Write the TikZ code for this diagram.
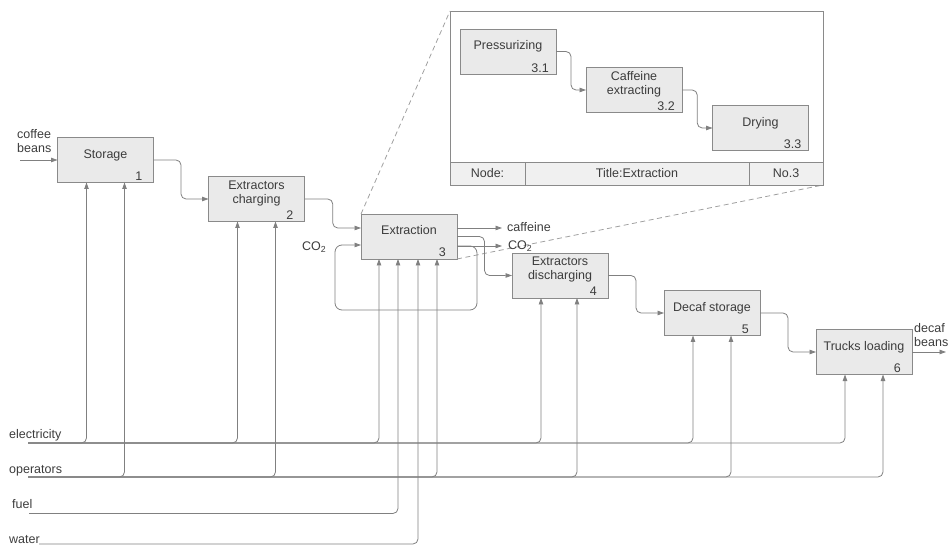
\documentclass[tikz,border=0pt]{standalone}
\usepackage{fontspec}
\setmainfont{Liberation Sans}
\usetikzlibrary{calc,arrows.meta}
\definecolor{boxfill}{HTML}{EAEAEA}
\definecolor{boxline}{HTML}{8A8A8A}
\definecolor{wirec}{HTML}{808080}
\definecolor{dashc}{HTML}{A0A0A0}
\definecolor{ink}{HTML}{3C3C3C}
\definecolor{cellfill}{HTML}{F0F0F0}
\begin{document}
\begin{tikzpicture}[x=1pt,y=-1pt,
  box/.style={draw=boxline, fill=boxfill, line width=0.9pt, minimum width=96pt, minimum height=45pt, inner sep=0pt, outer sep=0pt},
  txt/.style={font=\fontsize{12.5}{14}\selectfont, text=ink, inner sep=0pt},
  onel/.style={txt, anchor=base},
  twol/.style={txt, align=center, anchor=center},
  num/.style={txt, anchor=base east},
  lbl/.style={txt, anchor=base west},
  wire/.style={draw=wirec, line width=0.8pt, rounded corners=5pt},
  arr/.style={wire, -{Triangle[length=6.5pt,width=4.5pt]}},
  zoomline/.style={draw=dashc, line width=0.8pt, dash pattern=on 5pt off 3.5pt},
  cell/.style={draw=boxline, fill=cellfill, line width=0.8pt, minimum height=23pt, inner sep=0pt, outer sep=0pt, anchor=south west, font=\fontsize{12.5}{14}\selectfont, text=ink}
]
\useasboundingbox (0,0) rectangle (948,545);

% ---------------- zoom inset ----------------
\node[box] (B3) at (409,236.5) {};
\node[draw=boxline, fill=white, line width=0.8pt, minimum width=373pt, minimum height=174pt, anchor=north west, inner sep=0pt, outer sep=0pt] (inset) at (450,11) {};
\draw[zoomline] (B3.north west) -- (inset.north west);
\draw[zoomline] (B3.south east) -- (inset.south east);
\node[cell, minimum width=75pt] (c1) at (inset.south west) {Node:};
\node[cell, minimum width=224pt] (c2) at (c1.south east) {Title:Extraction};
\node[cell, minimum width=74pt] (c3) at (c2.south east) {No.3};

\node[box] (P1) at (508,51.5) {};
\node[onel] (P1t) at ([yshift=-21pt]P1.north) {Pressurizing};
\node[num] (P1n) at ([xshift=-7pt,yshift=1.5pt]P1.south east) {3.1};
\node[box] (P2) at (634,90) {};
\node[twol] (P2t) at ([yshift=5.7pt]P2.center) {Caffeine\\extracting};
\node[num] (P2n) at ([xshift=-7pt,yshift=1.5pt]P2.south east) {3.2};
\node[box] (P3) at (760.5,128) {};
\node[onel] (P3t) at ([yshift=-21pt]P3.north) {Drying};
\node[num] (P3n) at ([xshift=-7pt,yshift=1.5pt]P3.south east) {3.3};

\draw[arr] (P1.east) -| ($(P1.east)!.5!(P2.west)$) |- (P2.west);
\draw[arr] (P2.east) -| ($(P2.east)!.5!(P3.west)$) |- (P3.west);

% ---------------- main boxes ----------------
\node[box] (B1) at (105.5,160) {};
\node[onel] (B1t) at ([yshift=-21pt]B1.north) {Storage};
\node[num] (B1n) at ([xshift=-11pt,yshift=2pt]B1.south east) {1};

\node[box] (B2) at (256.5,199) {};
\node[twol] (B2t) at ([yshift=5.7pt]B2.center) {Extractors\\charging};
\node[num] (B2n) at ([xshift=-11pt,yshift=2pt]B2.south east) {2};

\node[onel] (B3t) at ([yshift=-21pt]B3.north) {Extraction};
\node[num] (B3n) at ([xshift=-11pt,yshift=2pt]B3.south east) {3};

\node[box] (B4) at (560,275.5) {};
\node[twol] (B4t) at ([yshift=5.7pt]B4.center) {Extractors\\discharging};
\node[num] (B4n) at ([xshift=-11pt,yshift=2pt]B4.south east) {4};

\node[box] (B5) at (712,313) {};
\node[onel] (B5t) at ([yshift=-21pt]B5.north) {Decaf storage};
\node[num] (B5n) at ([xshift=-11pt,yshift=2pt]B5.south east) {5};

\node[box] (B6) at (864,352) {};
\node[onel] (B6t) at ([yshift=-21pt]B6.north) {Trucks loading};
\node[num] (B6n) at ([xshift=-11pt,yshift=2pt]B6.south east) {6};

% ---------------- flow connectors ----------------
\draw[arr] (B1.east) -| ($(B1.east)!.5!(B2.west)$) |- (B2.west);
\draw[arr] (B2.east) -| ($(B2.east)!.5!([yshift=8.5pt]B3.west)$) |- ([yshift=8.5pt]B3.west);
\draw[arr] (B3.east) -| ($(B3.east)!.5!(B4.west)$) |- (B4.west);
\draw[arr] (B4.east) -| ($(B4.east)!.5!(B5.west)$) |- (B5.west);
\draw[arr] (B5.east) -| ($(B5.east)!.5!(B6.west)$) |- (B6.west);

% inputs / outputs
\coordinate (cbIn) at (20,160);
\draw[arr] (cbIn) -- (cbIn -| B1.west);
\node[txt, align=left, anchor=west] (cbL) at (17,141.5) {coffee\\beans};

\coordinate (dbOut) at (946,352);
\draw[arr] (B6.east) -- (dbOut);
\node[txt, align=left, anchor=west] (dbL) at (914,335) {decaf\\beans};

\coordinate (caffEnd) at (502,228);
\coordinate (co2End) at (502,246);
\coordinate (loopR) at (477,310);
\coordinate (loopL) at (335,310);
\draw[arr] (caffEnd -| B3.east) -- (caffEnd);
\draw[arr] (co2End -| B3.east) -- (co2End);
\draw[arr, rounded corners=7pt] (co2End -| B3.east) -| (loopR) -- (loopL) |- ([yshift=-8.5pt]B3.west);
\node[lbl] (caffL) at (507,232) {caffeine};
\node[lbl] (co2L) at (508,250) {CO\textsubscript{2}};
\node[lbl] (co2In) at (302,251) {CO\textsubscript{2}};

% ---------------- resource lines ----------------
\coordinate (elecS) at (28,443);
\coordinate (operS) at (28,477);
\coordinate (fuelS) at (29,513.5);
\coordinate (waterS) at (39,544);
\node[lbl] (elecL) at (9,438) {electricity};
\node[lbl] (operL) at (9,473.5) {operators};
\node[lbl] (fuelL) at (12,508.3) {fuel};
\node[lbl] (waterL) at (9,543.3) {water};

\draw[arr] (elecS) -| ([xshift=-19pt]B1.south);
\draw[arr] (elecS) -| ([xshift=-19pt]B2.south);
\draw[arr] (elecS) -| ([xshift=-30pt]B3.south);
\draw[arr] (elecS) -| ([xshift=-19pt]B4.south);
\draw[arr] (elecS) -| ([xshift=-19pt]B5.south);
\draw[arr] (elecS) -| ([xshift=-19pt]B6.south);

\draw[arr] (operS) -| ([xshift=19pt]B1.south);
\draw[arr] (operS) -| ([xshift=19pt]B2.south);
\draw[arr] (operS) -| ([xshift=28pt]B3.south);
\draw[arr] (operS) -| ([xshift=17pt]B4.south);
\draw[arr] (operS) -| ([xshift=19pt]B5.south);
\draw[arr] (operS) -| ([xshift=19pt]B6.south);

\draw[arr] (fuelS) -| ([xshift=-11pt]B3.south);
\draw[arr] (waterS) -| ([xshift=9pt]B3.south);
\end{tikzpicture}
\end{document}
